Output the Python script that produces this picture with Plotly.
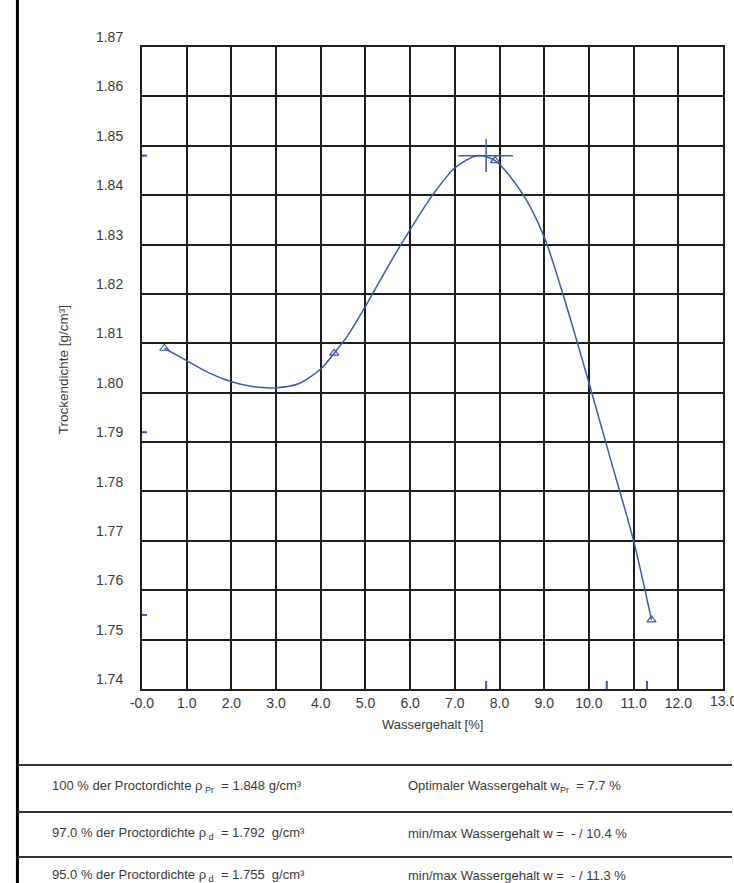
import plotly.graph_objects as go

# ---- data ----
x_ticks = [0, 1, 2, 3, 4, 5, 6, 7, 8, 9, 10, 11, 12, 13]
x_ticktext = ["-0.0", "1.0", "2.0", "3.0", "4.0", "5.0", "6.0", "7.0", "8.0",
              "9.0", "10.0", "11.0", "12.0", "13.0"]
y_ticks = [1.74, 1.75, 1.76, 1.77, 1.78, 1.79, 1.80, 1.81, 1.82, 1.83, 1.84, 1.85, 1.86, 1.87]
y_ticktext = ["1.74", "1.75", "1.76", "1.77", "1.78", "1.79", "1.80", "1.81", "1.82",
              "1.83", "1.84", "1.85", "1.86", "1.87"]

# measured points
w_meas = [0.5, 4.3, 7.9, 11.4]
rho_meas = [1.809, 1.808, 1.847, 1.754]

# Proctor curve
w_curve = [0.5, 1.0, 1.5, 2.0, 2.5, 3.0, 3.5, 4.0, 4.3, 4.6, 5.0, 5.5, 6.0, 6.5,
           7.0, 7.5, 7.9, 8.5, 9.0, 9.5, 10.0, 10.5, 11.0, 11.4]
rho_curve = [1.809, 1.8065, 1.8040, 1.8022, 1.8012, 1.8010, 1.8018, 1.8048, 1.808,
             1.8115, 1.8175, 1.8255, 1.8330, 1.8400, 1.8455, 1.8480, 1.847, 1.8405,
             1.8315, 1.8175, 1.8020, 1.7860, 1.7700, 1.754]

# Proctor results
w_opt = 7.7
rho_pr = 1.848
rho_limits = [1.848, 1.792, 1.755]
w_limits = [7.7, 10.4, 11.3]

table_left = [
    "100 % der Proctordichte ρ<sub> Pr</sub>  = 1.848 g/cm³",
    "97.0 % der Proctordichte ρ<sub> d</sub>  = 1.792  g/cm³",
    "95.0 % der Proctordichte ρ<sub> d</sub>  = 1.755  g/cm³",
]
table_right = [
    "Optimaler Wassergehalt w<sub>Pr</sub>  = 7.7 %",
    "min/max Wassergehalt w =  - / 10.4 %",
    "min/max Wassergehalt w =  - / 11.3 %",
]

# ---- layout constants ----
W, H = 734, 883
ML, MR, MT, MB = 142, 9, 47, 194
PW = W - ML - MR
PH = H - MT - MB
BLUE = "#3b5ba5"
GRID = "#1e1e1e"
TXT = "#3a3a3a"
FONT = "Liberation Sans, Arial, sans-serif"


def px_to_paper_y(py):
    return (H - MB - py) / PH


def px_to_paper_x(px):
    return (px - ML) / PW


fig = go.Figure()

fig.add_trace(go.Scatter(
    x=w_curve, y=rho_curve, mode="lines",
    line=dict(color=BLUE, width=1.5, shape="spline", smoothing=0.8),
    hoverinfo="skip", showlegend=False,
))
fig.add_trace(go.Scatter(
    x=w_meas, y=rho_meas, mode="markers",
    marker=dict(symbol="triangle-up-open", size=8, color=BLUE, line=dict(width=1.2)),
    showlegend=False,
))

shapes = []
# Optimum cross
shapes.append(dict(type="line", xref="x", yref="y", x0=w_opt - 0.62, x1=w_opt + 0.6,
                   y0=rho_pr, y1=rho_pr, line=dict(color=BLUE, width=1.5)))
shapes.append(dict(type="line", xref="x", yref="y", x0=w_opt, x1=w_opt,
                   y0=rho_pr - 0.0033, y1=rho_pr + 0.0033, line=dict(color=BLUE, width=1.5)))
# Blue marks on y axis
for r in rho_limits:
    shapes.append(dict(type="line", xref="paper", yref="y", x0=0, x1=5 / PW,
                       y0=r, y1=r, line=dict(color=BLUE, width=2)))
# Blue marks on x axis
for w in w_limits:
    shapes.append(dict(type="line", xref="x", yref="paper", x0=w, x1=w,
                       y0=0, y1=8 / PH, line=dict(color=BLUE, width=2)))
# Left border
shapes.append(dict(type="line", xref="paper", yref="paper",
                   x0=px_to_paper_x(17), x1=px_to_paper_x(17),
                   y0=px_to_paper_y(0), y1=px_to_paper_y(H),
                   line=dict(color="black", width=3)))
# Table lines
for py in [765, 812, 857]:
    shapes.append(dict(type="line", xref="paper", yref="paper",
                       x0=px_to_paper_x(17), x1=px_to_paper_x(W),
                       y0=px_to_paper_y(py), y1=px_to_paper_y(py),
                       line=dict(color="#333", width=2)))

annotations = []
# Axis titles
annotations.append(dict(text="Trockendichte [g/cm³]", xref="paper", yref="paper",
                        x=px_to_paper_x(63), y=px_to_paper_y(370), textangle=-90,
                        showarrow=False, xanchor="center", yanchor="middle",
                        font=dict(size=13.5, color=TXT, family=FONT)))
annotations.append(dict(text="Wassergehalt [%]", xref="paper", yref="paper",
                        x=px_to_paper_x(434), y=px_to_paper_y(724), showarrow=False,
                        xanchor="center", yanchor="middle",
                        font=dict(size=13, color=TXT, family=FONT)))
# Last x tick label (clipped by page edge, as in reference)
annotations.append(dict(text=x_ticktext[-1], xref="x", yref="paper",
                        x=x_ticks[-1], y=px_to_paper_y(701), showarrow=False,
                        xanchor="center", yanchor="middle",
                        font=dict(size=14, color=TXT, family=FONT)))
# Table text
for i, py in enumerate([787, 833, 876]):
    annotations.append(dict(text=table_left[i], xref="paper", yref="paper",
                            x=px_to_paper_x(50), y=px_to_paper_y(py), xanchor="left",
                            yanchor="middle", showarrow=False,
                            font=dict(size=13, color=TXT, family=FONT)))
    annotations.append(dict(text=table_right[i], xref="paper", yref="paper",
                            x=px_to_paper_x(407), y=px_to_paper_y(py), xanchor="left",
                            yanchor="middle", showarrow=False,
                            font=dict(size=13, color=TXT, family=FONT)))

fig.update_layout(
    width=W, height=H,
    margin=dict(l=ML, r=MR, t=MT, b=MB),
    paper_bgcolor="white", plot_bgcolor="white",
    font=dict(family=FONT, color=TXT, size=14),
    shapes=shapes, annotations=annotations,
    showlegend=False,
)
fig.update_xaxes(range=[0, 13], tickvals=x_ticks[:-1], ticktext=x_ticktext[:-1],
                 showgrid=True, gridcolor=GRID, gridwidth=1.6,
                 showline=True, linecolor=GRID, linewidth=2, mirror=True,
                 ticks="", zeroline=False, tickfont=dict(size=14, color=TXT))
fig.update_yaxes(range=[1.74, 1.87], tickvals=y_ticks, ticktext=y_ticktext,
                 showgrid=True, gridcolor=GRID, gridwidth=1.6,
                 showline=True, linecolor=GRID, linewidth=2, mirror=True,
                 ticks="", zeroline=False, tickfont=dict(size=14, color=TXT),
                 ticklabelposition="outside top", ticklabelstandoff=14)

fig.write_html("out.html")
